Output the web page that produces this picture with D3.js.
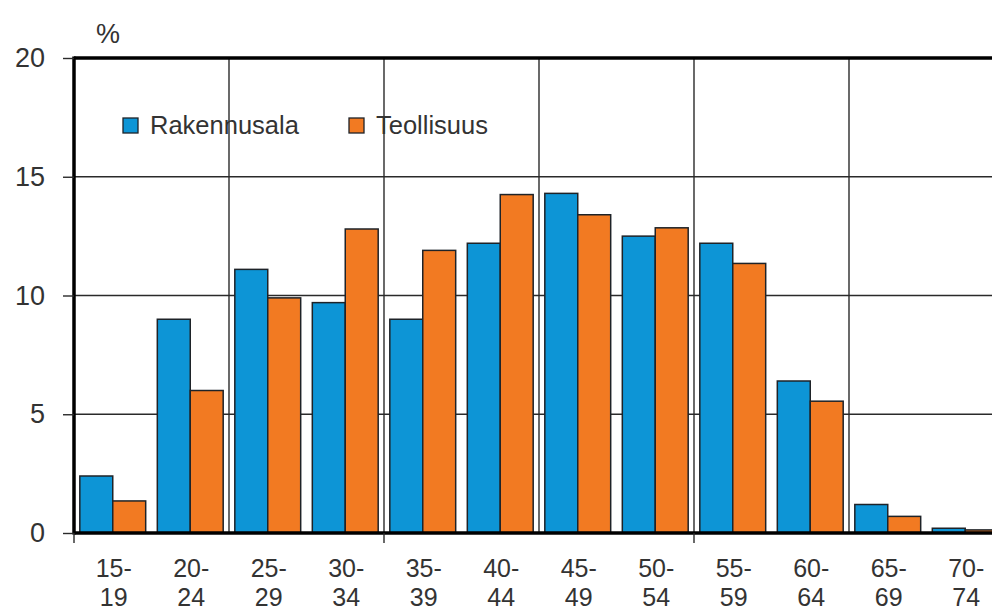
<!DOCTYPE html>
<html>
<head>
<meta charset="utf-8">
<script src="https://cdn.jsdelivr.net/npm/d3@7"></script>
<style>
  html, body { margin: 0; padding: 0; background: #fff; }
  svg { display: block; }
  text { font-family: Arial, "Liberation Sans", sans-serif; fill: #333; }
</style>
</head>
<body>
<svg id="chart" width="992" height="613"></svg>
<script>
// Age groups (two-line labels)
const ageGroups = ["15-19", "20-24", "25-29", "30-34", "35-39", "40-44",
                   "45-49", "50-54", "55-59", "60-64", "65-69", "70-74"];
const seriesNames = ["Rakennusala", "Teollisuus"];
// Share of employees by age group, %
const rakennusala = [2.4, 9.0, 11.1, 9.7, 9.0, 12.2, 14.3, 12.5, 12.2, 6.4, 1.2, 0.2];
const teollisuus  = [1.35, 6.0, 9.9, 12.8, 11.9, 14.25, 13.4, 12.85, 11.35, 5.55, 0.7, 0.13];
const yTicks = [0, 5, 10, 15, 20];
const seriesColors = ["#0d95d6", "#f27a22"];

const svg = d3.select("#chart");
const plotLeft = 74, plotRight = 1004, plotTop = 58, plotBottom = 533;

const x = d3.scaleBand().domain(ageGroups).range([plotLeft, plotRight])
  .paddingInner(0.15).paddingOuter(0.075);
const x1 = d3.scaleBand().domain(seriesNames).range([0, x.bandwidth()]);
const y = d3.scaleLinear().domain([0, 20]).range([plotBottom, plotTop]);
const color = d3.scaleOrdinal().domain(seriesNames).range(seriesColors);

const step = x.step();
const boundary = i => x(ageGroups[0]) - step * x.paddingOuter() + i * step;

// Gridlines
const grid = svg.append("g").attr("class", "grid");
grid.selectAll("line.h").data(yTicks.filter(v => v > 0 && v < 20)).join("line")
  .attr("class", "h")
  .attr("x1", plotLeft).attr("x2", plotRight)
  .attr("y1", d => y(d)).attr("y2", d => y(d))
  .attr("stroke", "#2a2a2a").attr("stroke-width", 1.4);
grid.selectAll("line.v").data(d3.range(2, ageGroups.length + 1, 2)).join("line")
  .attr("class", "v")
  .attr("x1", d => boundary(d)).attr("x2", d => boundary(d))
  .attr("y1", y(20)).attr("y2", y(0))
  .attr("stroke", "#2a2a2a").attr("stroke-width", 1.4);

// Bars
const rows = ageGroups.map((g, i) => ({ group: g, values: [rakennusala[i], teollisuus[i]] }));
svg.append("g").selectAll("g").data(rows).join("g")
  .attr("transform", d => `translate(${x(d.group)},0)`)
  .selectAll("rect")
  .data(d => seriesNames.map((s, k) => ({ key: s, value: d.values[k] })))
  .join("rect")
  .attr("x", d => x1(d.key))
  .attr("width", x1.bandwidth())
  .attr("y", d => y(d.value))
  .attr("height", d => y(0) - y(d.value))
  .attr("fill", d => color(d.key))
  .attr("stroke", "#1e2328").attr("stroke-width", 1.5);

// Frame: top border, left axis line, baseline
svg.append("line").attr("x1", plotLeft).attr("x2", plotRight).attr("y1", y(20)).attr("y2", y(20))
  .attr("stroke", "#000").attr("stroke-width", 3.5);
svg.append("line").attr("x1", plotLeft).attr("x2", plotLeft).attr("y1", y(20) - 1.5).attr("y2", y(0) + 1.5)
  .attr("stroke", "#000").attr("stroke-width", 3.5);
svg.append("line").attr("x1", plotLeft).attr("x2", plotRight).attr("y1", y(0)).attr("y2", y(0))
  .attr("stroke", "#000").attr("stroke-width", 3.5);

// Y axis ticks and labels
const yAxis = svg.append("g").attr("transform", `translate(${plotLeft},0)`)
  .call(d3.axisLeft(y).tickValues(yTicks).tickSize(11).tickPadding(18).tickFormat(d3.format("d")));
yAxis.select(".domain").remove();
yAxis.selectAll(".tick line").attr("stroke", "#2a2a2a").attr("stroke-width", 1.4);
yAxis.selectAll(".tick text").attr("font-size", 27).attr("fill", "#333")
  .attr("font-family", "Arial, 'Liberation Sans', sans-serif");

// X tick marks every four age groups
svg.append("g").selectAll("line").data(d3.range(0, ageGroups.length + 1, 4)).join("line")
  .attr("x1", d => boundary(d)).attr("x2", d => boundary(d))
  .attr("y1", y(0)).attr("y2", y(0) + 10)
  .attr("stroke", "#2a2a2a").attr("stroke-width", 1.4);

// X labels on two lines
const xl = svg.append("g").selectAll("text").data(ageGroups).join("text")
  .attr("text-anchor", "middle")
  .attr("font-size", 25)
  .attr("x", d => x(d) + x.bandwidth() / 2 + 1);
xl.append("tspan").attr("x", d => x(d) + x.bandwidth() / 2 + 1).attr("y", 577)
  .text(d => d.split("-")[0] + "-");
xl.append("tspan").attr("x", d => x(d) + x.bandwidth() / 2 + 1).attr("y", 606)
  .text(d => d.split("-")[1]);

// Unit label
svg.append("text").attr("x", 96).attr("y", 43).attr("font-size", 27).text("%");

// Legend
const legendPos = [123, 349];
const lg = svg.append("g").selectAll("g").data(seriesNames).join("g")
  .attr("transform", (d, i) => `translate(${legendPos[i]},118)`);
lg.append("rect").attr("width", 15).attr("height", 15)
  .attr("fill", d => color(d)).attr("stroke", "#1e2328").attr("stroke-width", 1.3);
lg.append("text").attr("x", 27).attr("y", 16).attr("font-size", 25.5).text(d => d);
</script>
</body>
</html>
